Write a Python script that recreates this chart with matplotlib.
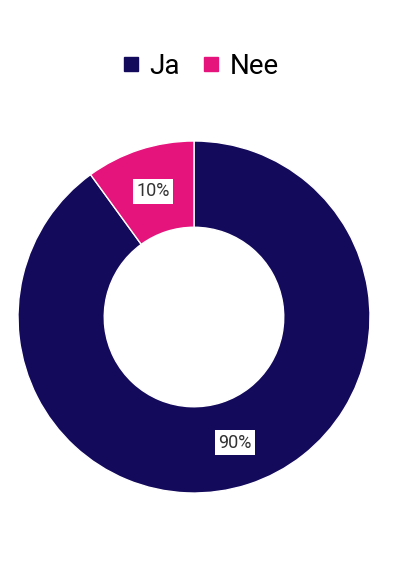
import matplotlib.pyplot as plt
from matplotlib.lines import Line2D

labels = ["Ja", "Nee"]
values = [90, 10]
colors = ["#140a5c", "#e5147d"]

plt.rcParams["font.family"] = ["Roboto", "DejaVu Sans"]

fig = plt.figure(figsize=(3.94, 5.72), dpi=100)
ax = fig.add_axes([18 / 394, 79 / 572, 352 / 394, 352 / 572])

wedges, texts, autotexts = ax.pie(
    values, colors=colors, startangle=90, counterclock=False,
    radius=1, autopct="%d%%", pctdistance=0.75,
    wedgeprops=dict(width=0.49, edgecolor="white", linewidth=1),
    textprops=dict(fontsize=13, color="#333333"),
)
for t in autotexts:
    t.set_bbox(dict(facecolor="white", edgecolor="none", pad=2.5))
ax.set_xlim(-1, 1)
ax.set_ylim(-1, 1)
ax.set_aspect("equal")
ax.axis("off")

handles = [Line2D([], [], marker="s", linestyle="none", markersize=9.5,
                  markerfacecolor=c, markeredgecolor=c) for c in colors]
fig.legend(handles, labels, loc="center", bbox_to_anchor=(199 / 394, 1 - 66 / 572),
           ncol=2, frameon=False, fontsize=20, handletextpad=0.25,
           columnspacing=0.75, handlelength=0.8)

fig.savefig("out.png", dpi=100)
